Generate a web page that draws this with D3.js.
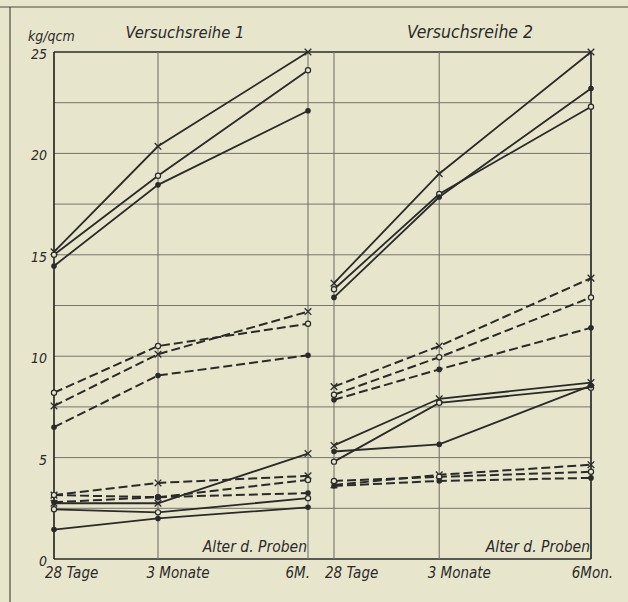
<!DOCTYPE html>
<html><head><meta charset="utf-8">
<script src="https://cdn.jsdelivr.net/npm/d3@7"></script>
<style>
html,body{margin:0;padding:0;background:#e8e5cd;}
svg{display:block;}
text{font-family:"Liberation Sans Narrow","DejaVu Sans Condensed","Liberation Sans",sans-serif;font-style:italic;fill:#2a2a28;}
</style></head>
<body>
<script>
// ---- data ----
const ageLabels1 = ["28 Tage", "3 Monate", "6M."];
const ageLabels2 = ["28 Tage", "3 Monate", "6Mon."];
const ageMonths = [0.92, 3, 6];
const yTicks = [0, 5, 10, 15, 20, 25];
const titles = ["Versuchsreihe 1", "Versuchsreihe 2"];
const unitLabel = "kg/qcm";
const xAxisTitle = "Alter d. Proben";

// Versuchsreihe 1
const r1SolidHighX   = [15.15, 20.35, 25.0];
const r1SolidHighO   = [15.0, 18.9, 24.1];
const r1SolidHighDot = [14.45, 18.45, 22.1];
const r1DashMidX     = [7.55, 10.1, 12.2];
const r1DashMidO     = [8.2, 10.5, 11.6];
const r1DashMidDot   = [6.5, 9.05, 10.05];
const r1DashLowX     = [3.15, 3.75, 4.1];
const r1DashLowO     = [3.15, 3.05, 3.9];
const r1DashLowDot   = [2.8, 3.05, 3.25];
const r1SolidLowX    = [2.75, 2.75, 5.2];
const r1SolidLowO    = [2.45, 2.3, 3.0];
const r1SolidLowDot  = [1.45, 2.0, 2.55];

// Versuchsreihe 2
const r2SolidHighX   = [13.6, 19.0, 25.0];
const r2SolidHighO   = [13.3, 18.0, 22.3];
const r2SolidHighDot = [12.9, 17.85, 23.2];
const r2DashMidX     = [8.5, 10.5, 13.85];
const r2DashMidO     = [8.1, 9.95, 12.9];
const r2DashMidDot   = [7.85, 9.35, 11.4];
const r2SolidLowX    = [5.6, 7.9, 8.7];
const r2SolidLowO    = [4.8, 7.7, 8.45];
const r2SolidLowDot  = [5.3, 5.65, 8.55];
const r2DashLowX     = [3.65, 4.15, 4.65];
const r2DashLowO     = [3.85, 4.05, 4.3];
const r2DashLowDot   = [3.6, 3.85, 4.0];

const series1 = [
  {v: r1SolidHighX, m: "x", dash: false}, {v: r1SolidHighO, m: "o", dash: false}, {v: r1SolidHighDot, m: "dot", dash: false},
  {v: r1DashMidX, m: "x", dash: true}, {v: r1DashMidO, m: "o", dash: true}, {v: r1DashMidDot, m: "dot", dash: true},
  {v: r1DashLowX, m: "x", dash: true}, {v: r1DashLowO, m: "o", dash: true}, {v: r1DashLowDot, m: "dot", dash: true},
  {v: r1SolidLowX, m: "x", dash: false}, {v: r1SolidLowO, m: "o", dash: false}, {v: r1SolidLowDot, m: "dot", dash: false}
];
const series2 = [
  {v: r2SolidHighX, m: "x", dash: false}, {v: r2SolidHighO, m: "o", dash: false}, {v: r2SolidHighDot, m: "dot", dash: false},
  {v: r2DashMidX, m: "x", dash: true}, {v: r2DashMidO, m: "o", dash: true}, {v: r2DashMidDot, m: "dot", dash: true},
  {v: r2SolidLowX, m: "x", dash: false}, {v: r2SolidLowO, m: "o", dash: false}, {v: r2SolidLowDot, m: "dot", dash: false},
  {v: r2DashLowX, m: "x", dash: true}, {v: r2DashLowO, m: "o", dash: true}, {v: r2DashLowDot, m: "dot", dash: true}
];

// ---- drawing ----
const W = 628, H = 602;
const ink = "#2a2a28", grid = "#75746a", bg = "#e8e5cd";
const svg = d3.select("body").append("svg").attr("width", W).attr("height", H);
svg.append("rect").attr("width", W).attr("height", H).attr("fill", bg);

// page frame lines from the scan
svg.append("line").attr("x1", 0).attr("x2", W).attr("y1", 7).attr("y2", 7).attr("stroke", "#4a4a44").attr("stroke-width", 1.2);
svg.append("line").attr("x1", 10).attr("x2", 10).attr("y1", 7).attr("y2", H).attr("stroke", "#4a4a44").attr("stroke-width", 1.2);

const y = d3.scaleLinear().domain([0, 25]).range([559, 52]);
const panels = [
  {x: d3.scaleLinear().domain([ageMonths[0], 6]).range([54, 308]), series: series1, labels: ageLabels1, title: titles[0]},
  {x: d3.scaleLinear().domain([ageMonths[0], 6]).range([334, 591]), series: series2, labels: ageLabels2, title: titles[1]}
];
const left = 54, right = 591;

// horizontal grid every 2.5
const gridVals = d3.range(0, 25.01, 2.5);
svg.append("g").selectAll("line").data(gridVals).join("line")
  .attr("x1", left).attr("x2", right)
  .attr("y1", d => y(d)).attr("y2", d => y(d))
  .attr("stroke", (d) => (d === 0 || d === 25) ? ink : grid)
  .attr("stroke-width", d => (d === 0 || d === 25) ? 1.7 : 1);

// vertical lines at the ages
panels.forEach((p, pi) => {
  svg.append("g").selectAll("line").data(ageMonths).join("line")
    .attr("x1", d => p.x(d)).attr("x2", d => p.x(d))
    .attr("y1", y(0)).attr("y2", y(25))
    .attr("stroke", (d, i) => (i === 0 && pi === 0) || (i === 2 && pi === 1) ? ink : grid)
    .attr("stroke-width", (d, i) => (i === 0 && pi === 0) || (i === 2 && pi === 1) ? 1.7 : 1.1);
});

// y tick labels
svg.append("g").selectAll("text").data(yTicks).join("text")
  .attr("x", 47).attr("y", d => y(d) + 7)
  .attr("text-anchor", "end").attr("font-size", 14).text(d => d);
svg.append("text").attr("x", 28).attr("y", 41).attr("font-size", 14).text(unitLabel);

const line = (p) => d3.line().x((d, i) => p.x(ageMonths[i])).y(d => y(d));

panels.forEach((p, pi) => {
  const g = svg.append("g");
  // title
  g.append("text").attr("x", pi === 0 ? 185 : 470).attr("y", 38)
    .attr("text-anchor", "middle").attr("font-size", pi === 0 ? 16.5 : 17.5).text(p.title);
  // x labels
  g.selectAll("text.xl").data(p.labels).join("text").attr("class", "xl")
    .attr("x", (d, i) => p.x(ageMonths[i]))
    .attr("y", 578).attr("font-size", 15)
    .attr("text-anchor", (d, i) => i === 0 ? "start" : (i === 1 ? "middle" : "end"))
    .attr("dx", (d, i) => i === 0 ? -9 : (i === 1 ? 20 : (pi === 0 ? 2 : 22)))
    .text(d => d);
  g.append("text").attr("x", p.x.range()[1] - 1).attr("y", 552)
    .attr("text-anchor", "end").attr("font-size", 15.5).text(xAxisTitle);
  // lines
  g.selectAll("path.s").data(p.series).join("path").attr("class", "s")
    .attr("d", d => line(p)(d.v))
    .attr("fill", "none").attr("stroke", ink)
    .attr("stroke-width", d => d.dash ? 2 : 1.8)
    .attr("stroke-dasharray", d => d.dash ? "9,4" : null);
  // markers
  p.series.forEach(s => {
    s.v.forEach((v, i) => {
      const cx = p.x(ageMonths[i]), cy = y(v);
      if (s.m === "x") {
        const r = 3.3;
        g.append("path").attr("d", `M${cx - r},${cy - r}L${cx + r},${cy + r}M${cx - r},${cy + r}L${cx + r},${cy - r}`)
          .attr("stroke", ink).attr("stroke-width", 1.3);
      } else if (s.m === "o") {
        g.append("circle").attr("cx", cx).attr("cy", cy).attr("r", 2.6)
          .attr("fill", bg).attr("stroke", ink).attr("stroke-width", 1.2);
      } else {
        g.append("circle").attr("cx", cx).attr("cy", cy).attr("r", 2.8).attr("fill", ink);
      }
    });
  });
});
</script>
</body></html>
